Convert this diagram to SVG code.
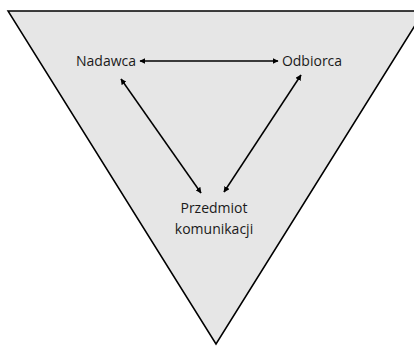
<svg xmlns="http://www.w3.org/2000/svg" width="414" height="346" viewBox="0 0 414 346">
<style>
text{font-family:"Open Sans","Liberation Sans",sans-serif;font-size:14px;fill:#1a1a1a}
.c{stroke:#000;stroke-width:1.5;fill:none;marker-start:url(#ah);marker-end:url(#ah)}
</style>
<defs>
<marker id="ah" viewBox="0 0 10 10" refX="9" refY="5" markerWidth="6" markerHeight="6" orient="auto-start-reverse" markerUnits="userSpaceOnUse">
<path d="M0,0 L10,5 L0,10 z" fill="#000"/>
</marker>
</defs>
<g id="triangle">
<polygon points="8,11 424,11 216,344" fill="#e6e6e6" stroke="#000" stroke-width="1.5"/>
</g>
<g id="connectors">
<line class="c" x1="140" y1="61" x2="278" y2="61"/>
<line class="c" x1="121" y1="79" x2="201" y2="193"/>
<line class="c" x1="301" y1="75" x2="224" y2="192"/>
</g>
<g id="nadawca"><text x="106" y="66" text-anchor="middle">Nadawca</text></g>
<g id="odbiorca"><text x="312" y="66" text-anchor="middle">Odbiorca</text></g>
<g id="przedmiot"><text x="214" y="213" text-anchor="middle">Przedmiot</text><text x="214" y="234" text-anchor="middle">komunikacji</text></g>
</svg>
